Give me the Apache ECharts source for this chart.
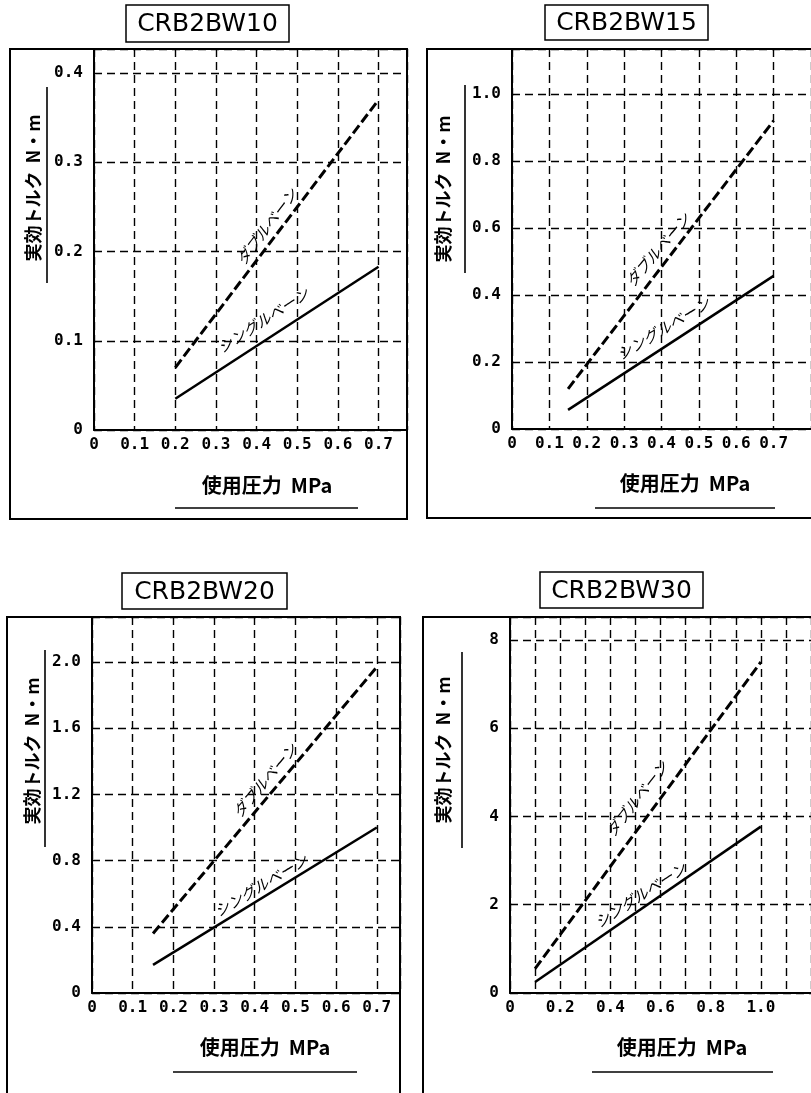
<!DOCTYPE html>
<html><head><meta charset="utf-8">
<script src="https://cdn.jsdelivr.net/npm/echarts@6/dist/echarts.min.js"></script>
<style>html,body{margin:0;padding:0;background:#fff}#c{width:811px;height:1093px}</style>
</head><body><div id="c"></div>
<script>
// ---- data ----
const titles = ['CRB2BW10', 'CRB2BW15', 'CRB2BW20', 'CRB2BW30'];
const xAxisTitle = '使用圧力  MPa';
const yAxisTitle = '実効トルク  N・m';
const doubleName = 'ダブルベーン';
const singleName = 'シングルベーン';

const p10Pressure = [0.2, 0.7];
const p10Double = [0.07, 0.37];
const p10Single = [0.035, 0.183];

const p15Pressure = [0.15, 0.7];
const p15Double = [0.12, 0.92];
const p15Single = [0.057, 0.457];

const p20Pressure = [0.15, 0.7];
const p20Double = [0.36, 1.97];
const p20Single = [0.17, 1.0];

const p30Pressure = [0.1, 1.0];
const p30Double = [0.55, 7.5];
const p30Single = [0.25, 3.77];

const xInterval = [0.1, 0.1, 0.1, 0.1];
const yInterval = [0.1, 0.2, 0.4, 2];
const xMaxVal = [0.77, 0.8, 0.757, 1.2];
const yMaxVal = [0.427, 1.134, 2.272, 8.52];

// ---- layout / style ----
const grids = [
  {left: 94, top: 49, width: 313, height: 381},
  {left: 512, top: 49, width: 326, height: 380},
  {left: 92, top: 617, width: 308, height: 376},
  {left: 510, top: 617, width: 323, height: 376}
];
const pressures = [p10Pressure, p15Pressure, p20Pressure, p30Pressure];
const doubles = [p10Double, p15Double, p20Double, p30Double];
const singles = [p10Single, p15Single, p20Single, p30Single];
const labelPos = [
  {d: [0.425, 0.228], dr: 53, s: [0.416, 0.123], sr: 33},
  {d: [0.39, 0.535], dr: 50, s: [0.405, 0.3], sr: 31},
  {d: [0.425, 1.285], dr: 50, s: [0.415, 0.65], sr: 31},
  {d: [0.505, 4.4], dr: 52, s: [0.52, 2.22], sr: 33}
];
const tickFont = {fontFamily: 'DejaVu Sans Mono', fontWeight: 'bold', fontSize: 16, color: '#000'};
const gridLine = {show: true, lineStyle: {color: '#000', width: 1.4, type: [8, 5]}};

function fmtDec(v) { return Math.abs(v) < 1e-9 ? '0' : v.toFixed(1); }
function fmtP4x(v) {
  const t = Math.round(v * 10);
  if (t === 0) return '0';
  return t % 2 === 0 ? v.toFixed(1) : '';
}
function fmtInt(v) { return String(Math.round(v)); }

const xAxes = [], yAxes = [], series = [];
for (let i = 0; i < 4; i++) {
  xAxes.push({
    type: 'value', gridIndex: i, min: 0, max: xMaxVal[i], interval: xInterval[i],
    axisLine: {show: true, onZero: false, lineStyle: {color: '#000', width: 2}},
    axisTick: {show: false},
    axisLabel: Object.assign({margin: 7, showMaxLabel: false, formatter: i === 3 ? fmtP4x : fmtDec}, tickFont),
    splitLine: gridLine
  });
  yAxes.push({
    type: 'value', gridIndex: i, min: 0, max: yMaxVal[i], interval: yInterval[i],
    axisLine: {show: true, onZero: false, lineStyle: {color: '#000', width: 2}},
    axisTick: {show: false},
    axisLabel: Object.assign({margin: 11, showMaxLabel: false, formatter: i === 3 ? fmtInt : fmtDec}, tickFont),
    splitLine: gridLine
  });
  const lp = labelPos[i];
  const lblStyle = {fontFamily: 'Noto Sans CJK JP', fontStyle: 'italic', fontSize: 15, color: '#000'};
  series.push({
    type: 'line', name: doubleName, xAxisIndex: i, yAxisIndex: i,
    data: pressures[i].map((x, k) => [x, doubles[i][k]]),
    showSymbol: false, symbol: 'none', silent: true,
    lineStyle: {color: '#000', width: 3, type: [10, 4]},
    markPoint: {
      symbolSize: 0, silent: true,
      data: [{coord: lp.d, name: doubleName}],
      label: Object.assign({show: true, position: 'inside', rotate: lp.dr, formatter: doubleName}, lblStyle)
    }
  });
  series.push({
    type: 'line', name: singleName, xAxisIndex: i, yAxisIndex: i,
    data: pressures[i].map((x, k) => [x, singles[i][k]]),
    showSymbol: false, symbol: 'none', silent: true,
    lineStyle: {color: '#000', width: 2.5},
    markPoint: {
      symbolSize: 0, silent: true,
      data: [{coord: lp.s, name: singleName}],
      label: Object.assign({show: true, position: 'inside', rotate: lp.sr, formatter: singleName}, lblStyle)
    }
  });
}

// decorations
const frames = [
  {x: 10, y: 49, width: 397, height: 470},
  {x: 427, y: 49, width: 420, height: 469},
  {x: 7, y: 617, width: 393, height: 500},
  {x: 423, y: 617, width: 420, height: 500}
];
const titleBoxes = [
  {x: 126, y: 5, width: 163, height: 37},
  {x: 545, y: 5, width: 163, height: 35},
  {x: 122, y: 573, width: 165, height: 36},
  {x: 540, y: 572, width: 163, height: 36}
];
const yNamePos = [[33, 188], [443, 189], [32, 751], [443, 750]];
const yNameLine = [[47, 87, 283], [465, 85, 273], [45, 650, 847], [462, 652, 848]];
const xNamePos = [[267, 485], [685, 483], [265, 1047], [682, 1047]];
const xNameLine = [[175, 358, 508], [595, 775, 508], [173, 357, 1072], [592, 773, 1072]];

const graphic = [];
for (let i = 0; i < 4; i++) {
  graphic.push({type: 'rect', shape: frames[i], style: {fill: 'none', stroke: '#000', lineWidth: 2}, silent: true});
  graphic.push({type: 'rect', shape: titleBoxes[i], style: {fill: '#fff', stroke: '#000', lineWidth: 1.5}, silent: true});
  graphic.push({type: 'text', style: {
    text: titles[i], x: titleBoxes[i].x + titleBoxes[i].width / 2, y: titleBoxes[i].y + titleBoxes[i].height / 2 + 1,
    align: 'center', verticalAlign: 'middle', font: '25px "DejaVu Sans"', fill: '#000'}, silent: true});
  graphic.push({type: 'group', x: yNamePos[i][0], y: yNamePos[i][1], rotation: Math.PI / 2, silent: true,
    children: [{type: 'text', style: {text: yAxisTitle, x: 0, y: 0, align: 'center', verticalAlign: 'middle',
      font: 'bold 18px "Noto Sans CJK JP"', fill: '#000'}}]});
  graphic.push({type: 'line', shape: {x1: yNameLine[i][0], y1: yNameLine[i][1], x2: yNameLine[i][0], y2: yNameLine[i][2]},
    style: {stroke: '#000', lineWidth: 1.6}, silent: true});
  graphic.push({type: 'text', style: {text: xAxisTitle, x: xNamePos[i][0], y: xNamePos[i][1],
    align: 'center', verticalAlign: 'middle', font: 'bold 20px "Noto Sans CJK JP"', fill: '#000'}, silent: true});
  graphic.push({type: 'line', shape: {x1: xNameLine[i][0], y1: xNameLine[i][2], x2: xNameLine[i][1], y2: xNameLine[i][2]},
    style: {stroke: '#000', lineWidth: 1.6}, silent: true});
}

const chart = echarts.init(document.getElementById('c'), null, {renderer: 'canvas'});
chart.setOption({
  backgroundColor: '#fff',
  animation: false,
  grid: grids.map(g => Object.assign({containLabel: false}, g)),
  xAxis: xAxes,
  yAxis: yAxes,
  series: series,
  graphic: graphic
});
</script></body></html>
